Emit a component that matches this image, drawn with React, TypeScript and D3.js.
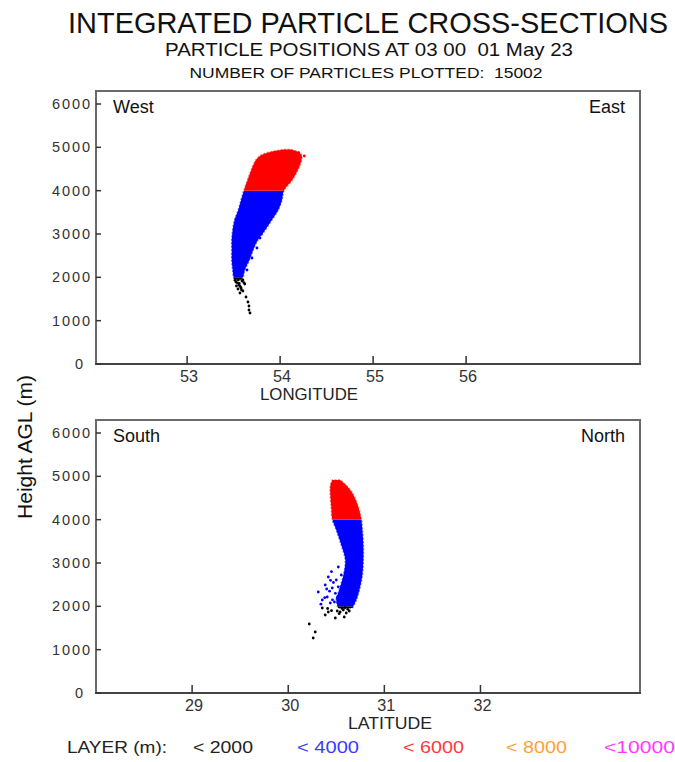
import * as d3 from "d3";
import { useEffect, useRef } from "react";

const layerTops = [2000, 4000, 6000, 8000, 10000];
const layerColors = ["#000000", "#0000ff", "#ff0000", "#ff9900", "#ff00ff"];
const layerLabels = ["< 2000", "< 4000", "< 6000", "< 8000", "<10000"];
const legendTextColors = ["#222222", "#3a3aff", "#ff3a3a", "#ff9f3a", "#ff3aff"];

const heightTicks = [0, 1000, 2000, 3000, 4000, 5000, 6000];
const lonTicks = [53, 54, 55, 56];
const latTicks = [29, 30, 31, 32];

// outline of the particle cloud seen from the south (height vs longitude)
const lonHeights = [1950, 2000, 2169, 2400, 2631, 2862, 3092, 3323, 3554, 3785, 4000, 4246, 4477, 4708, 4823, 4915, 4950];
const lonWest = [53.51, 53.5, 53.49, 53.48, 53.48, 53.48, 53.49, 53.51, 53.55, 53.58, 53.61, 53.65, 53.69, 53.74, 53.8, 53.94, 54.05];
const lonEast = [53.58, 53.6, 53.62, 53.67, 53.71, 53.76, 53.84, 53.91, 53.98, 54.02, 54.04, 54.13, 54.19, 54.23, 54.23, 54.17, 54.11];

// loose particles (longitude view)
const lonDots = [53.783, 53.751, 53.697, 53.644, 53.8, 54.26, 54.2,
  53.525, 53.558, 53.59, 53.62, 53.547, 53.58, 53.6, 53.568, 53.633, 53.654, 53.665, 53.665, 53.676,
  53.54, 53.57, 53.53, 53.61, 53.55, 53.585, 53.6, 53.515, 53.56];
const lonDotHeights = [2908, 2677, 2446, 2169, 3000, 4800, 4880,
  1892, 1823, 1915, 1846, 1731, 1754, 1685, 1638, 1546, 1431, 1338, 1246, 1177,
  1870, 1790, 1800, 1880, 1940, 1710, 1940, 1930, 1860];

// outline of the particle cloud seen from the west (height vs latitude)
const latHeights = [1960, 2146, 2377, 2723, 3069, 3415, 3762, 4015, 4292, 4615, 4800, 4915];
const latSouth = [30.52, 30.5, 30.53, 30.575, 30.594, 30.552, 30.5, 30.458, 30.448, 30.4375, 30.44, 30.46];
const latNorth = [30.667, 30.708, 30.74, 30.771, 30.781, 30.781, 30.771, 30.76, 30.729, 30.667, 30.6, 30.54];

// loose particles (latitude view)
const latDots = [30.417, 30.385, 30.3125, 30.406, 30.458, 30.521, 30.5, 30.4375, 30.354, 30.552,
  30.45, 30.47, 30.43, 30.49, 30.38, 30.52, 30.46, 30.34, 30.48, 30.44, 30.51, 30.4,
  30.219, 30.281, 30.26, 30.354, 30.385, 30.417, 30.51, 30.54, 30.573, 30.604, 30.635, 30.583, 30.49,
  30.56, 30.62, 30.53, 30.59, 30.45, 30.41];
const latDotHeights = [2677, 2492, 2331, 2215, 2423, 2908, 2608, 2077, 2146, 2723,
  2800, 2550, 2350, 2300, 2200, 2450, 2150, 2050, 2100, 2600, 2200, 2400,
  1592, 1408, 1269, 1962, 1800, 1869, 1892, 1869, 1915, 1846, 1892, 1754, 1731,
  1950, 1930, 1830, 1970, 1900, 1950];

const FONT = "'Liberation Sans', Arial, Helvetica, sans-serif";
const LEFT = 96;
const RIGHT = 640;
const PANEL_H = 273;

function layerColor(h: number) {
  const i = layerTops.findIndex((t) => h < t);
  return layerColors[i < 0 ? layerColors.length - 1 : i];
}

function drawPanel(svg: any, p: any) {
  const x = d3.scaleLinear().domain(p.domain).range([LEFT, RIGHT]);
  const y = d3.scaleLinear().domain([0, 6300]).range([p.bottom, p.bottom - PANEL_H]);
  const top = p.bottom - PANEL_H;
  const g = svg.append("g");

  const cloud = p.heights.map((h: number, i: number) => ({ h, a: p.lo[i], b: p.hi[i] }));
  const area = d3
    .area<any>()
    .y((d) => y(d.h))
    .x0((d) => x(d.a))
    .x1((d) => x(d.b))
    .curve(d3.curveCatmullRom);

  layerTops.forEach((t, i) => {
    const low = i === 0 ? 0 : layerTops[i - 1];
    const id = `${p.id}-layer${i}`;
    g.append("clipPath")
      .attr("id", id)
      .append("rect")
      .attr("x", LEFT)
      .attr("width", RIGHT - LEFT)
      .attr("y", y(t))
      .attr("height", y(low) - y(t));
    g.append("path")
      .datum(cloud)
      .attr("d", area)
      .attr("fill", layerColors[i])
      .attr("stroke", layerColors[i])
      .attr("stroke-width", 1.6)
      .attr("stroke-opacity", 0.55)
      .attr("stroke-dasharray", "2 1.5")
      .attr("clip-path", `url(#${id})`);
  });

  g.selectAll(".dot")
    .data(p.dots.map((v: number, i: number) => ({ v, h: p.dotHeights[i] })))
    .enter()
    .append("circle")
    .attr("cx", (d: any) => x(d.v))
    .attr("cy", (d: any) => y(d.h))
    .attr("r", 1.4)
    .attr("fill", (d: any) => layerColor(d.h));

  // frame
  g.append("rect")
    .attr("x", LEFT)
    .attr("y", top)
    .attr("width", RIGHT - LEFT)
    .attr("height", PANEL_H)
    .attr("fill", "none")
    .attr("stroke", "#6a6a6a")
    .attr("stroke-width", 2);
  g.append("line")
    .attr("x1", LEFT - 1)
    .attr("x2", RIGHT + 1)
    .attr("y1", p.bottom)
    .attr("y2", p.bottom)
    .attr("stroke", "#444")
    .attr("stroke-width", 2);

  // y ticks
  g.selectAll(".ytick")
    .data(heightTicks)
    .enter()
    .append("line")
    .attr("x1", LEFT)
    .attr("x2", LEFT + 5)
    .attr("y1", (d: number) => y(d))
    .attr("y2", (d: number) => y(d))
    .attr("stroke", "#333")
    .attr("stroke-width", 1.5);
  g.selectAll(".ylab")
    .data(heightTicks)
    .enter()
    .append("text")
    .attr("x", (d: number) => (d === 0 ? 83 : 90))
    .attr("y", (d: number) => y(d) + 5)
    .attr("text-anchor", "end")
    .attr("font-size", 14.5)
    .attr("fill", "#333")
    .attr("textLength", (d: number) => (d === 0 ? null : 38))
    .text((d: number) => d);

  // x ticks
  g.selectAll(".xtick")
    .data(p.ticks)
    .enter()
    .append("line")
    .attr("x1", (d: number) => x(d))
    .attr("x2", (d: number) => x(d))
    .attr("y1", p.bottom)
    .attr("y2", p.bottom - 8)
    .attr("stroke", "#333")
    .attr("stroke-width", 1.5);
  g.selectAll(".xlab")
    .data(p.ticks)
    .enter()
    .append("text")
    .attr("x", (d: number) => x(d) + 2)
    .attr("y", p.bottom + 18)
    .attr("text-anchor", "middle")
    .attr("font-size", 16)
    .attr("fill", "#333")
    .attr("textLength", 18)
    .attr("lengthAdjust", "spacingAndGlyphs")
    .text((d: number) => d);

  g.append("text")
    .attr("x", p.titleX)
    .attr("y", p.bottom + 36)
    .attr("text-anchor", "middle")
    .attr("font-size", 16.5)
    .attr("fill", "#222")
    .attr("textLength", p.titleW)
    .attr("lengthAdjust", "spacingAndGlyphs")
    .text(p.title);

  g.append("text")
    .attr("x", 113)
    .attr("y", top + 22)
    .attr("font-size", 18)
    .attr("fill", "#111")
    .text(p.leftLabel);
  g.append("text")
    .attr("x", 625)
    .attr("y", top + 22)
    .attr("text-anchor", "end")
    .attr("font-size", 18)
    .attr("fill", "#111")
    .text(p.rightLabel);
}

export default function App() {
  const ref = useRef<SVGSVGElement>(null);

  useEffect(() => {
    const svg = d3.select(ref.current);
    svg.selectAll("*").remove();

    svg.append("rect").attr("width", 675).attr("height", 762).attr("fill", "#fff");

    const titles = [
      { t: "INTEGRATED PARTICLE CROSS-SECTIONS", x: 368, y: 33, s: 29, w: 600 },
      { t: "PARTICLE POSITIONS AT 03 00  01 May 23", x: 369, y: 56, s: 19, w: 408 },
      { t: "NUMBER OF PARTICLES PLOTTED:  15002", x: 366, y: 78, s: 15.5, w: 353 },
    ];
    svg.selectAll(".title")
      .data(titles)
      .enter()
      .append("text")
      .attr("x", (d) => d.x)
      .attr("y", (d) => d.y)
      .attr("text-anchor", "middle")
      .attr("font-size", (d) => d.s)
      .attr("fill", "#111")
      .attr("textLength", (d) => d.w)
      .attr("lengthAdjust", "spacingAndGlyphs")
      .style("white-space", "pre")
      .text((d) => d.t);

    drawPanel(svg, {
      id: "lon",
      bottom: 364,
      domain: [52.02, 57.87],
      ticks: lonTicks,
      heights: lonHeights,
      lo: lonWest,
      hi: lonEast,
      dots: lonDots,
      dotHeights: lonDotHeights,
      title: "LONGITUDE",
      titleX: 309,
      titleW: 98,
      leftLabel: "West",
      rightLabel: "East",
    });
    drawPanel(svg, {
      id: "lat",
      bottom: 693,
      domain: [28, 33.66],
      ticks: latTicks,
      heights: latHeights,
      lo: latSouth,
      hi: latNorth,
      dots: latDots,
      dotHeights: latDotHeights,
      title: "LATITUDE",
      titleX: 390,
      titleW: 84,
      leftLabel: "South",
      rightLabel: "North",
    });

    svg.append("text")
      .attr("transform", "translate(32,447) rotate(-90)")
      .attr("text-anchor", "middle")
      .attr("font-size", 21)
      .attr("fill", "#111")
      .text("Height AGL (m)");

    // legend
    const legendX = [193, 297, 403, 506, 604];
    const legendW = [60, 62, 61, 61, 71];
    svg.append("text").attr("x", 67).attr("y", 753).attr("font-size", 17)
      .attr("fill", "#222").attr("textLength", 100)
      .attr("lengthAdjust", "spacingAndGlyphs").text("LAYER (m):");
    svg.selectAll(".leg")
      .data(layerLabels)
      .enter()
      .append("text")
      .attr("x", (d, i) => legendX[i])
      .attr("y", 753)
      .attr("font-size", 17)
      .attr("fill", (d, i) => legendTextColors[i])
      .attr("textLength", (d, i) => legendW[i])
      .attr("lengthAdjust", "spacingAndGlyphs")
      .text((d) => d);
  }, []);

  return (
    <svg
      ref={ref}
      width={675}
      height={762}
      style={{ position: "absolute", left: 0, top: 0, fontFamily: FONT }}
    />
  );
}
